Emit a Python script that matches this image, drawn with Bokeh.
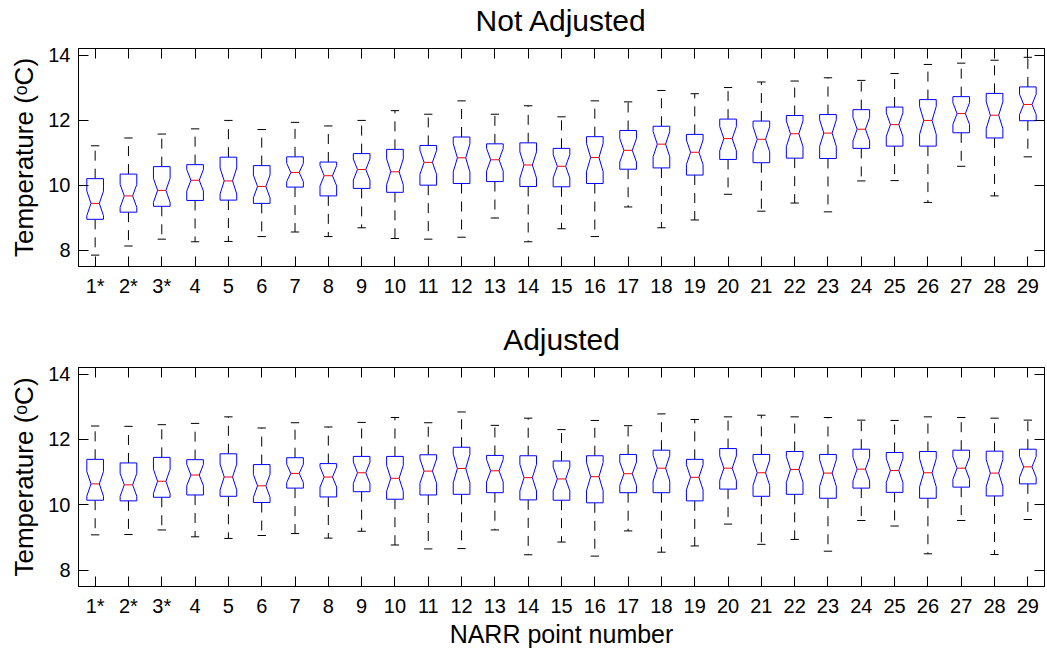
import math
from bokeh.plotting import figure
from bokeh.models import Range1d, FixedTicker, LinearAxis
from bokeh.layouts import column
from bokeh.embed import file_html
from bokeh.resources import INLINE

# ---------------- data ----------------
point_labels = ["1*", "2*", "3*", "4", "5", "6", "7", "8", "9", "10",
                "11", "12", "13", "14", "15", "16", "17", "18", "19", "20",
                "21", "22", "23", "24", "25", "26", "27", "28", "29"]
positions = list(range(1, 30))

# Not adjusted
na_upper = [11.21, 11.45, 11.57, 11.73, 11.99, 11.71, 11.93, 11.82, 11.99, 12.29,
            12.18, 12.59, 12.18, 12.44, 12.10, 12.59, 12.56, 12.91, 12.81, 13.00,
            13.17, 13.20, 13.30, 13.22, 13.43, 13.71, 13.75, 13.84, 13.93]
na_q3 = [10.20, 10.34, 10.57, 10.63, 10.86, 10.60, 10.87, 10.71, 10.97, 11.10,
         11.22, 11.48, 11.27, 11.30, 11.13, 11.49, 11.68, 11.81, 11.56, 12.03,
         11.97, 12.14, 12.17, 12.32, 12.40, 12.63, 12.72, 12.82, 13.02]
na_med = [9.44, 9.67, 9.84, 10.15, 10.13, 9.96, 10.39, 10.29, 10.48, 10.41,
          10.70, 10.84, 10.78, 10.62, 10.58, 10.85, 11.07, 11.26, 11.01, 11.43,
          11.41, 11.58, 11.60, 11.72, 11.86, 11.99, 12.20, 12.15, 12.48]
na_q1 = [8.95, 9.17, 9.35, 9.53, 9.54, 9.44, 9.94, 9.67, 9.90, 9.78,
         10.00, 10.05, 10.11, 9.96, 9.95, 10.05, 10.49, 10.53, 10.31, 10.79,
         10.69, 10.83, 10.82, 11.13, 11.20, 11.20, 11.61, 11.45, 11.98]
na_lower = [7.85, 8.13, 8.34, 8.26, 8.27, 8.42, 8.56, 8.42, 8.69, 8.36,
            8.34, 8.40, 8.99, 8.26, 8.66, 8.42, 9.33, 8.69, 8.93, 9.72,
            9.20, 9.45, 9.18, 10.13, 10.14, 9.47, 10.58, 9.67, 10.87]

# Adjusted
adj_upper = [12.41, 12.40, 12.45, 12.49, 12.69, 12.35, 12.51, 12.38, 12.52, 12.67,
             12.51, 12.84, 12.43, 12.65, 12.30, 12.58, 12.42, 12.78, 12.61, 12.69,
             12.74, 12.69, 12.67, 12.59, 12.58, 12.69, 12.67, 12.65, 12.59]
adj_q3 = [11.39, 11.28, 11.45, 11.38, 11.56, 11.23, 11.44, 11.26, 11.48, 11.48,
          11.53, 11.76, 11.51, 11.50, 11.34, 11.50, 11.54, 11.67, 11.39, 11.72,
          11.54, 11.63, 11.54, 11.70, 11.60, 11.63, 11.67, 11.64, 11.70]
adj_med = [10.64, 10.61, 10.72, 10.91, 10.85, 10.58, 10.96, 10.85, 10.98, 10.81,
           11.03, 11.11, 11.04, 10.83, 10.79, 10.86, 10.95, 11.12, 10.84, 11.12,
           10.98, 11.08, 10.97, 11.09, 11.05, 10.98, 11.12, 10.97, 11.16]
adj_q1 = [10.14, 10.12, 10.23, 10.30, 10.26, 10.07, 10.51, 10.24, 10.40, 10.17,
          10.30, 10.32, 10.37, 10.15, 10.14, 10.06, 10.37, 10.37, 10.12, 10.48,
          10.26, 10.32, 10.20, 10.51, 10.38, 10.20, 10.54, 10.27, 10.64]
adj_lower = [9.08, 9.09, 9.23, 9.02, 8.97, 9.06, 9.12, 8.98, 9.19, 8.77,
             8.65, 8.66, 9.23, 8.47, 8.86, 8.43, 9.20, 8.55, 8.74, 9.41,
             8.79, 8.94, 8.58, 9.52, 9.35, 8.50, 9.52, 8.48, 9.55]

y_ticks = [8, 10, 12, 14]
n_years = 27  # sample size used for notch width (1.57*IQR/sqrt(n))

FONT = "Liberation Sans"
BOX_HALF = 0.25
CAP_HALF = 0.125


def style_axis(ax, labels=True):
    ax.major_tick_in = 10
    ax.major_tick_out = 0
    ax.minor_tick_in = 0
    ax.minor_tick_out = 0
    ax.axis_line_color = "black"
    ax.major_tick_line_color = "black"
    ax.major_label_text_font = FONT
    if labels:
        ax.major_label_text_color = "black"
        ax.major_label_text_font_size = "20px"
    else:
        ax.major_label_text_color = None
        ax.major_label_text_font_size = "1px"
        ax.major_label_standoff = 0


def make_panel(title, upper, q3, med, q1, lower, height, b_top, b_bottom, xlabel=None):
    p = figure(width=1047, height=height,
               x_range=Range1d(0.5, 29.5), y_range=Range1d(7.5, 14.2),
               x_axis_type=None, y_axis_type=None,
               output_backend="svg", toolbar_location=None,
               min_border_left=78, min_border_right=3,
               min_border_top=b_top, min_border_bottom=b_bottom)
    p.outline_line_color = "black"
    p.outline_line_width = 1
    p.background_fill_color = "white"
    p.border_fill_color = "white"

    xt = FixedTicker(ticks=positions)
    yt = FixedTicker(ticks=y_ticks)
    overrides = {pos: lab for pos, lab in zip(positions, point_labels)}

    bottom = LinearAxis(ticker=xt, major_label_overrides=overrides)
    style_axis(bottom)
    bottom.major_label_standoff = 8
    if xlabel:
        bottom.axis_label = xlabel
        bottom.axis_label_text_font = FONT
        bottom.axis_label_text_font_size = "25px"
        bottom.axis_label_text_font_style = "normal"
        bottom.axis_label_text_color = "black"
        bottom.axis_label_standoff = 0
    p.add_layout(bottom, "below")

    left = LinearAxis(ticker=yt)
    style_axis(left)
    left.major_label_standoff = 8
    left.axis_label = "Temperature (ᵒC)"
    left.axis_label_text_font = FONT
    left.axis_label_text_font_size = "26px"
    left.axis_label_text_font_style = "normal"
    left.axis_label_text_color = "black"
    left.axis_label_standoff = 6
    p.add_layout(left, "left")

    # top axis: ticks only, carries the panel title as its label
    top = LinearAxis(ticker=xt)
    style_axis(top, labels=False)
    top.axis_label = title
    top.axis_label_text_font = FONT
    top.axis_label_text_font_size = "30px"
    top.axis_label_text_font_style = "normal"
    top.axis_label_text_color = "black"
    top.axis_label_standoff = 12
    p.add_layout(top, "above")

    right = LinearAxis(ticker=yt)
    style_axis(right, labels=False)
    p.add_layout(right, "right")

    # notched boxes
    xs, ys = [], []
    for x, a, m, b in zip(positions, q1, med, q3):
        n = 1.57 * (b - a) / math.sqrt(n_years)
        xs.append([x - BOX_HALF, x - BOX_HALF, x - BOX_HALF / 2, x - BOX_HALF, x - BOX_HALF,
                   x + BOX_HALF, x + BOX_HALF, x + BOX_HALF / 2, x + BOX_HALF, x + BOX_HALF])
        ys.append([a, m - n, m, m + n, b, b, m + n, m, m - n, a])

    # whiskers (dashed)
    p.segment(x0=positions, y0=q3, x1=positions, y1=upper,
              line_color="black", line_width=1, line_dash="10 8")
    p.segment(x0=positions, y0=q1, x1=positions, y1=lower,
              line_color="black", line_width=1, line_dash="10 8")
    # caps
    p.segment(x0=[x - CAP_HALF for x in positions], y0=upper,
              x1=[x + CAP_HALF for x in positions], y1=upper,
              line_color="black", line_width=1)
    p.segment(x0=[x - CAP_HALF for x in positions], y0=lower,
              x1=[x + CAP_HALF for x in positions], y1=lower,
              line_color="black", line_width=1)
    p.patches(xs=xs, ys=ys, fill_color="white", fill_alpha=1.0,
              line_color="#0000ff", line_width=1)
    p.segment(x0=[x - BOX_HALF / 2 for x in positions], y0=med,
              x1=[x + BOX_HALF / 2 for x in positions], y1=med,
              line_color="#ff0000", line_width=1)
    return p


p1 = make_panel("Not Adjusted", na_upper, na_q3, na_med, na_q1, na_lower,
                height=318, b_top=48, b_bottom=52)
p2 = make_panel("Adjusted", adj_upper, adj_q3, adj_med, adj_q1, adj_lower,
                height=332, b_top=49, b_bottom=64, xlabel="NARR point number")

layout = column(p1, p2, spacing=0)
open("out.html", "w").write(file_html(layout, INLINE))
